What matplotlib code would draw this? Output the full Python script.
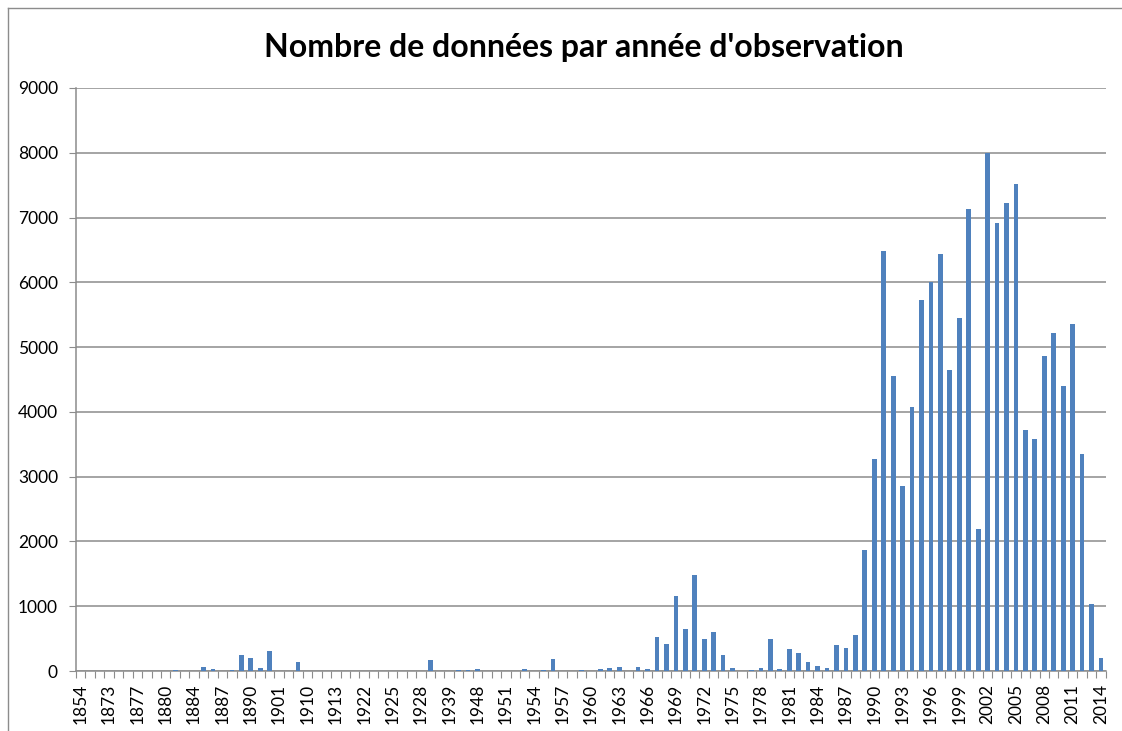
import numpy as np
import matplotlib
matplotlib.use("Agg")
import matplotlib.pyplot as plt
from matplotlib.lines import Line2D

# years shown on the category axis (only every third one is labelled)
years = [1854, 1860, 1868, 1873, 1875, 1876, 1877, 1878, 1879, 1880,
         1881, 1883, 1884, 1885, 1886, 1887, 1888, 1889, 1890, 1894,
         1899, 1901, 1904, 1908, 1910, 1911, 1912, 1913, 1916, 1920,
         1922, 1923, 1924, 1925, 1926, 1927, 1928, 1930, 1935, 1939,
         1944, 1946] + list(range(1948, 2015))

counts = [0, 0, 0, 0, 0, 0, 0, 0, 0, 0,
          15, 0, 2, 62, 26, 1, 15, 254, 207, 41,
          306, 0, 0, 140, 0, 0, 0, 0, 0, 0,
          2, 0, 0, 2, 0, 0, 0, 171, 0, 0,
          15, 15,
          # 1948 -> 1959
          26, 0, 0, 3, 5, 36, 5, 15, 192, 0, 5, 8,
          # 1960 -> 1969
          3, 31, 47, 57, 2, 62, 31, 520, 418, 1155,
          # 1970 -> 1979
          650, 1485, 495, 603, 247, 46, 0, 15, 46, 490,
          # 1980 -> 1989
          26, 340, 278, 134, 72, 46, 402, 356, 563, 1872,
          # 1990 -> 1999
          3266, 6483, 4550, 2856, 4080, 5725, 6000, 6440, 4642, 5455,
          # 2000 -> 2009
          7125, 2190, 8000, 6923, 7229, 7517, 3713, 3578, 4862, 5223,
          # 2010 -> 2014
          4404, 5352, 3346, 1028, 196]

yticks = list(range(0, 9001, 1000))

plt.rcParams['font.family'] = ['Lato', 'DejaVu Sans']

fig = plt.figure(figsize=(11.22, 7.31), dpi=100)
ax = fig.add_axes([76 / 1122, 1 - 671 / 731, 1029.7 / 1122, 583 / 731])

x = np.arange(len(years))
ax.bar(x, counts, width=0.5, color='#4F81BD', zorder=3)

ax.set_xlim(-0.5, len(years) - 0.5)
ax.set_ylim(0, 9000)
ax.set_yticks(yticks)
ax.set_yticklabels([str(v) for v in yticks])
ax.yaxis.grid(True, color='#8C8C8C', linewidth=1.1, zorder=0)

# tick marks between categories, labels every third category
ax.set_xticks(np.arange(-0.5, len(years), 1))
ax.set_xticklabels([])
ax.set_xticks(x[::3], minor=True)
ax.set_xticklabels([str(years[i]) for i in x[::3]], minor=True, rotation=90)
ax.tick_params(axis='x', which='major', direction='out', length=5, color='#8C8C8C')
ax.tick_params(axis='x', which='minor', length=0, pad=9, labelsize=12.5)
ax.tick_params(axis='y', direction='out', length=5, color='#8C8C8C', pad=8, labelsize=12.5)

for s in ['top', 'right']:
    ax.spines[s].set_visible(False)
for s in ['left', 'bottom']:
    ax.spines[s].set_color('#8C8C8C')
    ax.spines[s].set_linewidth(1.1)

fig.text(584 / 1122, 1 - 47 / 731, "Nombre de données par année d'observation",
         ha='center', va='center', fontsize=23, fontweight='bold')

# chart frame (left and top edges visible)
fig.add_artist(Line2D([8 / 1122, 8 / 1122], [0, 1 - 8 / 731], color='#8C8C8C', lw=1))
fig.add_artist(Line2D([8 / 1122, 1], [1 - 8 / 731, 1 - 8 / 731], color='#8C8C8C', lw=1))

fig.savefig('out.png', dpi=100)
